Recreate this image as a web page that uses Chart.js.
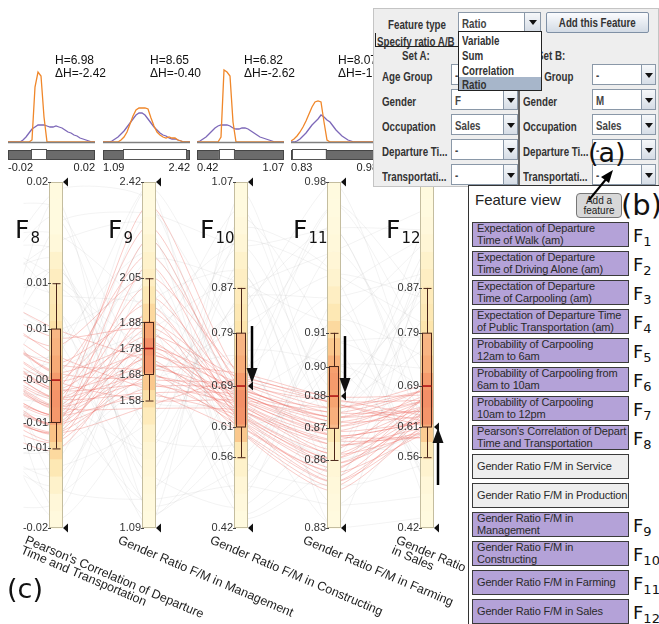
<!DOCTYPE html>
<html><head><meta charset="utf-8">
<script src="https://cdn.jsdelivr.net/npm/chart.js@4.4.1/dist/chart.umd.min.js"></script>
<style>
html,body{margin:0;padding:0;background:#fff;}
body{width:659px;height:624px;position:relative;overflow:hidden;font-family:"Liberation Sans",Arial,sans-serif;}
canvas{position:absolute;}
.a{position:absolute;white-space:nowrap;}
.lbl{font-weight:bold;font-size:12.5px;color:#333;line-height:14px;display:inline-block;transform:scaleX(0.78);transform-origin:0 50%;white-space:nowrap;}
.cbt{position:absolute;background:#fff;border:1px solid #8a98a8;box-sizing:border-box;padding-left:3px;line-height:19px;overflow:hidden;}
.cbt .lbl{color:#444;}
.cbb{position:absolute;background:linear-gradient(#f6f8fa,#d6dde6);border:1px solid #8a98a8;box-sizing:border-box;}
.cbb:after{content:"";position:absolute;left:50%;top:50%;margin-left:-4px;margin-top:-2px;border-left:4px solid transparent;border-right:4px solid transparent;border-top:5px solid #111;}
.feat{position:absolute;left:472px;width:157px;height:25px;box-sizing:border-box;border:1.5px solid #3a3a3a;background:#b4a2d8;font-size:11px;letter-spacing:-0.15px;color:#2a2a2a;line-height:11.5px;padding:0 0 0 4px;white-space:nowrap;overflow:hidden;}
.feat.off{background:#eeeeee;}
.feat.one{line-height:22px;}
.ft{position:absolute;font-family:"DejaVu Sans",sans-serif;font-size:18px;color:#111;line-height:20px;}
.ft sub{font-size:13px;vertical-align:-4px;line-height:0;}
.big{position:absolute;font-family:"DejaVu Sans",sans-serif;font-size:27px;color:#111;line-height:30px;}
</style></head><body>
<canvas id="pc" width="470" height="624" style="left:0;top:0"></canvas>
<canvas id="h0" width="100" height="176" style="left:8px;top:0"></canvas>
<canvas id="h1" width="100" height="176" style="left:103px;top:0"></canvas>
<canvas id="h2" width="100" height="176" style="left:197px;top:0"></canvas>
<canvas id="h3" width="100" height="176" style="left:291px;top:0"></canvas>
<div class="big" style="left:7px;top:574px;">(c)</div>

<!-- panel (a) -->
<div class="a" style="left:373px;top:8px;width:286px;height:179px;background:#eeeeee;border:1px solid #c4c4c4;box-sizing:border-box;"></div>
<div class="a" style="left:388px;top:15px;"><span class="lbl">Feature type</span></div>
<div class="cbt" style="left:458px;top:12px;width:67px;height:20px;"><span class="lbl">Ratio</span></div>
<div class="cbb" style="left:524px;top:12px;width:17px;height:20px;"></div>
<div class="a" style="left:546px;top:12px;width:103px;height:21px;box-sizing:border-box;border:1px solid #7f90a5;border-radius:2px;background:linear-gradient(#fbfcfe,#d3dbe5);text-align:center;line-height:18px;"><span class="lbl" style="transform-origin:50% 50%;">Add this Feature</span></div>
<div class="a" style="left:375px;top:33px;width:84px;height:14px;border-left:1.5px solid #222;border-bottom:1.5px solid #222;box-sizing:border-box;"></div>
<div class="a" style="left:377px;top:32px;"><span class="lbl">Specify ratio A/B</span></div>
<div class="a" style="left:402px;top:46px;"><span class="lbl">Set A:</span></div>
<div class="a" style="left:537px;top:46px;"><span class="lbl">Set B:</span></div>
<div class="a" style="left:518px;top:48px;width:2px;height:139px;background:#666;"></div>
<div id="rows"></div>
<div class="a" style="left:458px;top:31px;width:84px;height:60px;background:#fff;border:1px solid #222;box-sizing:border-box;">
  <div style="height:15px;line-height:15px;padding-left:3px;"><span class="lbl" style="line-height:15px;">Variable</span></div>
  <div style="height:15px;line-height:15px;padding-left:3px;"><span class="lbl" style="line-height:15px;">Sum</span></div>
  <div style="height:15px;line-height:15px;padding-left:3px;"><span class="lbl" style="line-height:15px;">Correlation</span></div>
  <div style="height:13px;line-height:13px;padding-left:3px;background:#a7b6ca;"><span class="lbl" style="line-height:13px;">Ratio</span></div>
</div>
<div class="big" style="left:588px;top:138px;">(a)</div>

<!-- panel (b) -->
<div class="a" style="left:468px;top:185px;width:200px;height:450px;background:#fff;border-left:1.5px solid #333;border-top:1.5px solid #333;box-sizing:border-box;"></div>
<div class="a" style="left:475px;top:191px;font-size:15px;color:#222;">Feature view</div>
<div class="a" style="left:576px;top:193px;width:46px;height:25px;box-sizing:border-box;border:1px solid #777;border-radius:4px;background:#d8d8d8;font-size:10px;line-height:10px;text-align:center;color:#222;padding-top:2px;">Add a<br>feature</div>
<div class="big" style="left:621px;top:190px;font-size:29px;">(b)</div>
<div id="feats"></div>
<svg class="a" style="left:0;top:0;pointer-events:none" width="659" height="624">
  <line x1="589" y1="200" x2="607" y2="178" stroke="#000" stroke-width="2"/>
  <polygon points="613,170 601,177 609,183" fill="#000"/>
</svg>

<script>
// ---------------- data ----------------
const axisIds = ["8", "9", "10", "11", "12"];
const axisTitles = [
  ["Pearson's Correlation of Departure", "Time and Transportation"],
  ["Gender Ratio F/M in Management"],
  ["Gender Ratio F/M in Constructing"],
  ["Gender Ratio F/M in Farming"],
  ["Gender Ratio", "in Sales"]
];
const axisMin = [-0.02, 1.09, 0.42, 0.83, 0.42];
const axisMax = [0.02, 2.42, 1.07, 0.98, 1.07];
const whiskerHigh = [0.0083, 2.05, 0.871, 0.9146, 0.871];
const quart3 = [0.0030, 1.88, 0.786, 0.9000, 0.786];
const medians = [-0.0029, 1.78, 0.6867, 0.8872, 0.6867];
const quart1 = [-0.0078, 1.68, 0.6097, 0.8732, 0.6097];
const whiskerLow = [-0.0108, 1.58, 0.553, 0.8595, 0.553];
const tickLabelsF8 = ["0.02", "0.01", "0.01", "-0.00", "-0.01", "-0.01", "-0.02"];
const tickLabelsF9 = ["2.42", "2.05", "1.88", "1.78", "1.68", "1.58", "1.09"];
const tickLabelsF10 = ["1.07", "0.87", "0.79", "0.69", "0.61", "0.56", "0.42"];
const tickLabelsF11 = ["0.98", "0.91", "0.90", "0.88", "0.87", "0.86", "0.83"];
const tickLabelsF12 = ["1.07", "0.87", "0.79", "0.69", "0.61", "0.56", "0.42"];
// density along each axis, bottom -> top
const densF8 = [0.03,0.06,0.15,0.3,0.45,0.65,0.85,0.9,0.8,0.6,0.45,0.38,0.32,0.28,0.22,0.15,0.05,0.02,0.02,0.02];
const densF9 = [0.02,0.03,0.05,0.08,0.1,0.15,0.25,0.4,0.6,0.85,0.95,0.7,0.45,0.3,0.2,0.15,0.1,0.05,0.02,0.02];
const densF10 = [0.02,0.04,0.08,0.15,0.3,0.6,0.9,0.95,0.8,0.55,0.4,0.35,0.3,0.25,0.2,0.15,0.08,0.04,0.02,0.02];
const densF11 = [0.02,0.03,0.05,0.08,0.15,0.3,0.5,0.7,0.8,0.75,0.6,0.45,0.3,0.2,0.12,0.08,0.05,0.03,0.02,0.02];
const densF12 = [0.02,0.03,0.06,0.12,0.28,0.55,0.88,0.95,0.8,0.55,0.4,0.35,0.3,0.25,0.2,0.15,0.08,0.04,0.02,0.02];
// filter markers and arrows
const markerAxis = [2, 3, 4];
const markerValue = [0.6867, 0.8872, 0.6097];
const arrowDown = [true, true, false];

// selected records (F7 is the previous, off-screen axis, probability 0..1)
const redF7 = [0.55,0.62,0.48,0.70,0.40,0.66,0.52,0.45,0.58,0.35,0.60,0.50,0.42,0.68,0.55,0.38,0.64,0.47,0.57,0.33,0.61,0.44,0.53,0.72,0.39,0.59,0.46,0.66,0.51,0.36,0.63,0.49,0.56,0.41,0.69,0.54,0.43,0.60,0.37,0.52];
const redF8 = [-0.006,-0.004,-0.008,-0.002,-0.009,0.001,-0.005,-0.007,-0.003,-0.010,-0.001,-0.006,-0.008,0.002,-0.004,-0.009,-0.002,-0.007,-0.005,-0.011,-0.003,-0.008,-0.006,0.003,-0.010,-0.004,-0.007,-0.001,-0.005,-0.009,-0.002,-0.006,-0.004,-0.008,0.000,-0.005,-0.007,-0.003,-0.009,-0.006];
const redF9 = [2.33,2.25,2.20,2.14,2.10,2.06,2.02,1.98,1.95,1.92,1.90,1.88,1.86,1.85,1.83,1.81,1.80,1.79,1.78,1.77,1.76,1.75,1.74,1.73,1.72,1.71,1.70,1.69,1.68,1.67,1.66,1.65,1.64,1.63,1.62,1.61,1.60,1.58,1.56,1.55];
const redF10 = [0.70,0.68,0.66,0.69,0.64,0.71,0.63,0.67,0.62,0.65,0.60,0.68,0.66,0.63,0.70,0.61,0.67,0.64,0.69,0.62,0.66,0.68,0.60,0.65,0.63,0.71,0.67,0.61,0.64,0.66,0.69,0.62,0.65,0.68,0.60,0.67,0.63,0.66,0.70,0.64];
const redF11 = [0.885,0.880,0.870,0.878,0.862,0.887,0.858,0.874,0.850,0.868,0.846,0.882,0.872,0.860,0.884,0.855,0.876,0.866,0.880,0.852,0.870,0.878,0.848,0.864,0.858,0.886,0.874,0.854,0.868,0.872,0.882,0.856,0.866,0.876,0.850,0.870,0.860,0.878,0.884,0.862];
const redF12 = [0.66,0.64,0.62,0.68,0.60,0.67,0.63,0.65,0.61,0.59,0.62,0.69,0.66,0.64,0.61,0.67,0.63,0.60,0.68,0.65,0.62,0.66,0.64,0.69,0.61,0.63,0.67,0.60,0.65,0.62,0.68,0.64,0.61,0.66,0.63,0.59,0.67,0.64,0.62,0.65];
// background (unselected) records
const greyF7 = [0.15,0.85,0.30,0.70,0.25,0.90,0.10,0.55,0.40,0.65,0.20,0.80,0.35,0.75,0.05,0.60,0.45,0.95,0.28,0.68,0.12,0.50,0.83,0.38,0.58,0.22,0.72,0.08,0.88,0.47,0.63,0.18,0.78,0.33,0.92,0.42,0.67,0.26,0.53,0.86];
const greyF8 = [0.015,-0.015,0.010,-0.012,0.005,-0.018,0.018,0.000,-0.005,0.008,-0.010,0.012,-0.016,0.003,-0.002,0.016,-0.008,0.006,-0.014,0.011,0.001,-0.019,0.014,-0.006,0.019,-0.011,0.004,-0.017,0.009,-0.003,0.013,-0.013,0.007,-0.001,0.017,-0.007,0.002,-0.015,0.010,-0.004];
const greyF9 = [2.30,1.20,1.50,2.10,1.35,1.95,1.15,2.40,1.40,1.70,2.20,1.25,1.60,2.00,1.85,1.45,2.30,1.10,1.75,1.30,2.15,1.55,1.90,1.20,2.35,1.65,1.40,2.05,1.80,1.13,2.25,1.50,1.95,1.30,1.70,2.40,1.18,1.88,1.58,2.12];
const greyF10 = [0.95,0.50,0.85,0.55,0.75,0.90,0.60,0.45,1.00,0.80,0.65,0.70,0.95,0.52,0.88,0.58,0.78,1.05,0.48,0.92,0.68,0.82,0.44,0.98,0.62,0.74,0.86,0.56,1.02,0.66,0.50,0.90,0.72,0.46,0.84,0.76,0.54,0.96,0.64,0.88];
const greyF11 = [0.96,0.84,0.93,0.85,0.90,0.88,0.95,0.87,0.91,0.94,0.86,0.97,0.89,0.92,0.83,0.90,0.96,0.88,0.93,0.85,0.91,0.98,0.86,0.94,0.89,0.84,0.95,0.92,0.87,0.97,0.90,0.86,0.93,0.88,0.96,0.85,0.91,0.94,0.83,0.92];
const greyF12 = [0.98,0.48,0.90,0.80,0.55,0.95,0.70,1.00,0.52,0.85,0.60,0.75,0.88,0.50,0.93,0.72,0.58,0.82,0.97,0.54,0.78,0.62,0.92,0.46,0.86,0.66,1.02,0.74,0.56,0.84,0.64,0.94,0.50,0.76,0.60,0.90,0.68,0.80,0.44,0.96];

// distribution histograms (30 bins across each axis range)
const orangeF8 = [0,0,0,0,0,0,0,0,2,55,70,66,25,0,0,0,0,0,0,0,0,0,0,0,0,0,0,0,0,0];
const purpleF8 = [0,0,0,0,0,2,5,9,13,15,17,17,17,16,15,15,16,15,14,12,10,9,7,6,4,3,2,1,0,0];
const orangeF9 = [0,0,0,0,0,0,2,5,10,18,26,32,34,34,34,33,24,16,10,7,5,4,5,4,4,2,1,0,0,0];
const purpleF9 = [0,0,0,1,3,5,8,11,15,19,23,27,29,29,27,23,19,15,12,9,7,6,4,3,3,2,1,0,0,0];
const orangeF10 = [0,0,0,0,0,0,0,0,5,72,70,66,20,0,0,0,0,0,0,0,0,0,0,0,0,0,0,0,0,0];
const purpleF10 = [0,1,3,5,8,11,14,16,17,17,17,16,14,13,13,14,14,13,11,9,7,5,4,3,2,1,0,0,0,0];
const orangeF11 = [1,3,6,10,15,21,28,35,40,41,40,20,2,0,0,0,0,0,0,0,0,0,0,0,0,0,0,0,0,0];
const purpleF11 = [0,0,1,3,6,9,13,17,20,23,27,25,22,20,16,12,9,6,4,2,1,0,0,0,0,0,0,0,0,0];
const sliderLow = [-0.0094, 1.396, 0.584, 0.832];
const sliderHigh = [-0.0025, 2.359, 0.696, 0.890];
const entropy = ["6.98", "8.65", "6.82", "8.07"];
const deltaEntropy = ["-2.42", "-0.40", "-2.62", "-1.20"];

// feature view list
const featureText = [
  ["Expectation of Departure", "Time of Walk (am)"],
  ["Expectation of Departure", "Time of Driving Alone (am)"],
  ["Expectation of Departure", "Time of Carpooling (am)"],
  ["Expectation of Departure Time", "of Public Transportation (am)"],
  ["Probability of Carpooling", "12am to 6am"],
  ["Probability of Carpooling from", "6am to 10am"],
  ["Probability of Carpooling", "10am to 12pm"],
  ["Pearson's Correlation of Depart", "Time and Transportation"],
  ["Gender Ratio F/M in Service"],
  ["Gender Ratio F/M in Production"],
  ["Gender Ratio F/M in", "Management"],
  ["Gender Ratio F/M in", "Constructing"],
  ["Gender Ratio F/M in Farming"],
  ["Gender Ratio F/M in Sales"]
];
const featureTag = ["1","2","3","4","5","6","7","8","","","9","10","11","12"];

// ratio form rows
const formLabels = ["Age Group", "Gender", "Occupation", "Departure Ti...", "Transportati..."];
const setAValues = ["-", "F", "Sales", "-", "-"];
const setBValues = ["-", "M", "Sales", "-", "-"];

// ---------------- HTML widgets ----------------
(function(){
  const rows = document.getElementById('rows');
  let h = '';
  formLabels.forEach((t, k) => {
    const top = 64 + k * 25;
    h += `<div class="a" style="left:382px;top:${top+3}px;"><span class="lbl">${t}</span></div>`;
    h += `<div class="cbt" style="left:451px;top:${top}px;width:53px;height:21px;"><span class="lbl">${setAValues[k]}</span></div>`;
    h += `<div class="cbb" style="left:503px;top:${top}px;width:15px;height:21px;"></div>`;
    h += `<div class="a" style="left:523px;top:${top+3}px;"><span class="lbl">${t}</span></div>`;
    h += `<div class="cbt" style="left:592px;top:${top}px;width:50px;height:21px;"><span class="lbl">${setBValues[k]}</span></div>`;
    h += `<div class="cbb" style="left:641px;top:${top}px;width:15px;height:21px;"></div>`;
  });
  rows.innerHTML = h;
  const f = document.getElementById('feats');
  let g = '';
  featureText.forEach((lines, k) => {
    const top = 222 + k * 29;
    const cls = 'feat' + (featureTag[k] ? '' : ' off') + (lines.length === 1 ? ' one' : '');
    g += `<div class="${cls}" style="top:${top}px;">${lines.join('<br>')}</div>`;
    if (featureTag[k]) g += `<div class="ft" style="left:633px;top:${top+4}px;">F<sub>${featureTag[k]}</sub></div>`;
  });
  f.innerHTML = g;
})();

// ---------------- parallel coordinates ----------------
const densAll = [densF8, densF9, densF10, densF11, densF12];
const tickAll = [tickLabelsF8, tickLabelsF9, tickLabelsF10, tickLabelsF11, tickLabelsF12];
const norm = (i, v) => (v - axisMin[i]) / (axisMax[i] - axisMin[i]);
function record(prev, cols, k) {
  const pts = [{x: -1, y: prev[k]}];
  cols.forEach((c, i) => pts.push({x: i, y: norm(i, c[k])}));
  return pts;
}
const datasets = [];
const greyCols = [greyF8, greyF9, greyF10, greyF11, greyF12];
const redCols = [redF8, redF9, redF10, redF11, redF12];
greyF8.forEach((_, k) => datasets.push({data: record(greyF7, greyCols, k), borderColor: 'rgba(140,140,140,0.10)', borderWidth: 1}));
redF8.forEach((_, k) => datasets.push({data: record(redF7, redCols, k), borderColor: 'rgba(238,100,90,0.33)', borderWidth: 1}));

function densColor(d) {
  const stops = [[0, [255, 251, 226]], [0.35, [253, 229, 172]], [0.7, [249, 188, 128]], [1, [242, 138, 108]]];
  for (let s = 1; s < stops.length; s++) {
    if (d <= stops[s][0]) {
      const a = stops[s-1], b = stops[s], t = (d - a[0]) / (b[0] - a[0]);
      const c = a[1].map((v, j) => Math.round(v + (b[1][j] - v) * t));
      return `rgb(${c[0]},${c[1]},${c[2]})`;
    }
  }
  return 'rgb(242,138,108)';
}
function triLeft(ctx, x, y) {
  ctx.beginPath(); ctx.moveTo(x, y); ctx.lineTo(x + 5, y - 4.5); ctx.lineTo(x + 5, y + 4.5); ctx.closePath(); ctx.fill();
}

const pcDecor = {
  id: 'pcDecor',
  afterDatasetsDraw(chart) {
    const ctx = chart.ctx, xs = chart.scales.x, ys = chart.scales.y;
    ctx.save();
    for (let i = 0; i < 5; i++) {
      const c = Math.round(xs.getPixelForValue(i));
      const yOf = v => ys.getPixelForValue(norm(i, v));
      const top = yOf(axisMax[i]), bot = yOf(axisMin[i]);
      const dens = densAll[i], n = dens.length;
      for (let k = 0; k < n; k++) {
        const y0 = yOf(axisMin[i] + (k + 1) / n * (axisMax[i] - axisMin[i]));
        const y1 = yOf(axisMin[i] + k / n * (axisMax[i] - axisMin[i]));
        ctx.fillStyle = densColor(dens[k]);
        ctx.fillRect(c - 6, y0, 12, y1 - y0 + 0.5);
      }
      ctx.strokeStyle = '#c4bd9f'; ctx.lineWidth = 1;
      ctx.strokeRect(c - 6.5, top + 0.5, 13, bot - top - 1);
      const yq3 = yOf(quart3[i]), yq1 = yOf(quart1[i]), ym = yOf(medians[i]);
      const yh = yOf(whiskerHigh[i]), yl = yOf(whiskerLow[i]);
      ctx.fillStyle = 'rgba(244,140,95,0.5)';
      ctx.fillRect(c - 4.5, yq3, 9, yq1 - yq3);
      ctx.strokeStyle = '#4a2418'; ctx.lineWidth = 1;
      ctx.strokeRect(c - 4.5, yq3, 9, yq1 - yq3);
      ctx.beginPath();
      ctx.moveTo(c + 0.5, yh); ctx.lineTo(c + 0.5, yq3);
      ctx.moveTo(c + 0.5, yq1); ctx.lineTo(c + 0.5, yl);
      ctx.moveTo(c - 3.5, yh + 0.5); ctx.lineTo(c + 4.5, yh + 0.5);
      ctx.moveTo(c - 3.5, yl + 0.5); ctx.lineTo(c + 4.5, yl + 0.5);
      ctx.stroke();
      ctx.strokeStyle = '#b01515'; ctx.lineWidth = 1.6;
      ctx.beginPath(); ctx.moveTo(c - 4.5, ym); ctx.lineTo(c + 4.5, ym); ctx.stroke();
      const tv = [axisMax[i], whiskerHigh[i], quart3[i], medians[i], quart1[i], whiskerLow[i], axisMin[i]];
      ctx.font = '11px "Liberation Sans", Arial, sans-serif';
      ctx.fillStyle = '#333'; ctx.textAlign = 'right'; ctx.textBaseline = 'middle';
      ctx.strokeStyle = '#444'; ctx.lineWidth = 1;
      tv.forEach((v, j) => {
        const y = yOf(v);
        ctx.fillText(tickAll[i][j], c - 8, y);
        ctx.beginPath(); ctx.moveTo(c - 8, Math.round(y) + 0.5); ctx.lineTo(c - 5, Math.round(y) + 0.5); ctx.stroke();
      });
      ctx.fillStyle = '#111';
      triLeft(ctx, c + 7, top); triLeft(ctx, c + 7, bot);
      ctx.textAlign = 'left'; ctx.textBaseline = 'alphabetic'; ctx.fillStyle = '#111';
      ctx.font = '25px "DejaVu Sans", sans-serif';
      const fx = c - 41;
      ctx.fillText('F', fx, 238);
      const fw = ctx.measureText('F').width;
      ctx.font = '15px "DejaVu Sans", sans-serif';
      ctx.fillText(axisIds[i], fx + fw + 1, 243);
      ctx.save();
      ctx.translate(c - 28, 534);
      ctx.rotate(23 * Math.PI / 180);
      ctx.font = '12.5px "Liberation Sans", Arial, sans-serif';
      ctx.fillStyle = '#222'; ctx.textBaseline = 'top';
      axisTitles[i].forEach((t, j) => ctx.fillText(t, 0, j * 11));
      ctx.restore();
    }
    markerAxis.forEach((i, k) => {
      const c = Math.round(xs.getPixelForValue(i));
      const y = ys.getPixelForValue(norm(i, markerValue[k]));
      ctx.fillStyle = '#111';
      triLeft(ctx, c + 7, y);
      const ax = c + 11;
      const tip = arrowDown[k] ? y - 3 : y + 1;
      const tail = arrowDown[k] ? tip - 57 : tip + 57;
      const dir = arrowDown[k] ? 1 : -1;
      ctx.strokeStyle = '#000'; ctx.lineWidth = 2.5;
      ctx.beginPath(); ctx.moveTo(ax, tail); ctx.lineTo(ax, tip - dir * 12); ctx.stroke();
      ctx.beginPath(); ctx.moveTo(ax, tip); ctx.lineTo(ax - 5.5, tip - dir * 15); ctx.lineTo(ax + 5.5, tip - dir * 15); ctx.closePath(); ctx.fill();
    });
    ctx.restore();
  }
};

new Chart(document.getElementById('pc'), {
  type: 'line',
  data: {datasets},
  options: {
    responsive: false, animation: false, events: [],
    layout: {padding: {left: 23.5, right: 43, top: 182, bottom: 96}},
    elements: {point: {radius: 0}, line: {tension: 0.22}},
    plugins: {legend: {display: false}, tooltip: {enabled: false}},
    scales: {
      x: {type: 'linear', min: -0.35, max: 4, display: false},
      y: {type: 'linear', min: 0, max: 1, display: false}
    }
  },
  plugins: [pcDecor]
});

// ---------------- histograms ----------------
const orangeAll = [orangeF8, orangeF9, orangeF10, orangeF11];
const purpleAll = [purpleF8, purpleF9, purpleF10, purpleF11];
[0, 1, 2, 3].forEach(i => {
  const toPts = arr => arr.map((v, k) => ({x: axisMin[i] + k / (arr.length - 1) * (axisMax[i] - axisMin[i]), y: v}));
  const deco = {
    id: 'histDeco' + i,
    afterDatasetsDraw(chart) {
      const ctx = chart.ctx, xs = chart.scales.x, ys = chart.scales.y, ca = chart.chartArea;
      ctx.save();
      const by = Math.round(ys.getPixelForValue(0)) + 0.5;
      ctx.strokeStyle = '#808080'; ctx.lineWidth = 1.3;
      ctx.beginPath(); ctx.moveTo(ca.left, by); ctx.lineTo(ca.right, by); ctx.stroke();
      ctx.fillStyle = '#6b6b6b'; ctx.strokeStyle = '#454545'; ctx.lineWidth = 1;
      ctx.fillRect(ca.left, 150, ca.right - ca.left, 9);
      ctx.strokeRect(ca.left + 0.5, 150.5, ca.right - ca.left - 1, 9);
      const s0 = xs.getPixelForValue(sliderLow[i]), s1 = xs.getPixelForValue(sliderHigh[i]);
      ctx.fillStyle = '#fff'; ctx.fillRect(s0, 149, s1 - s0, 11);
      ctx.strokeStyle = '#555'; ctx.strokeRect(Math.round(s0) + 0.5, 149.5, Math.round(s1 - s0), 10);
      ctx.font = '11px "Liberation Sans", Arial, sans-serif'; ctx.fillStyle = '#222';
      ctx.textBaseline = 'alphabetic';
      ctx.textAlign = 'left'; ctx.fillText(axisMin[i].toFixed(2), ca.left, 171);
      ctx.textAlign = 'right'; ctx.fillText(axisMax[i].toFixed(2), ca.right, 171);
      ctx.textAlign = 'left'; ctx.font = '12px "Liberation Sans", Arial, sans-serif'; ctx.fillStyle = '#111';
      ctx.fillText('H=' + entropy[i], ca.left + 47, 64);
      ctx.fillText('\u0394H=' + deltaEntropy[i], ca.left + 47, 77);
      ctx.restore();
    }
  };
  new Chart(document.getElementById('h' + i), {
    type: 'line',
    data: {datasets: [
      {data: toPts(orangeAll[i]), borderColor: '#f0872a', borderWidth: 1.3},
      {data: toPts(purpleAll[i]), borderColor: '#7d68b8', borderWidth: 1.3}
    ]},
    options: {
      responsive: false, animation: false, events: [],
      layout: {padding: {left: 0, right: 13, top: 67, bottom: 34}},
      elements: {point: {radius: 0}, line: {tension: 0}},
      plugins: {legend: {display: false}, tooltip: {enabled: false}},
      scales: {
        x: {type: 'linear', min: axisMin[i], max: axisMax[i], display: false},
        y: {type: 'linear', min: 0, max: 75, display: false}
      }
    },
    plugins: [deco]
  });
});
</script>
</body></html>
